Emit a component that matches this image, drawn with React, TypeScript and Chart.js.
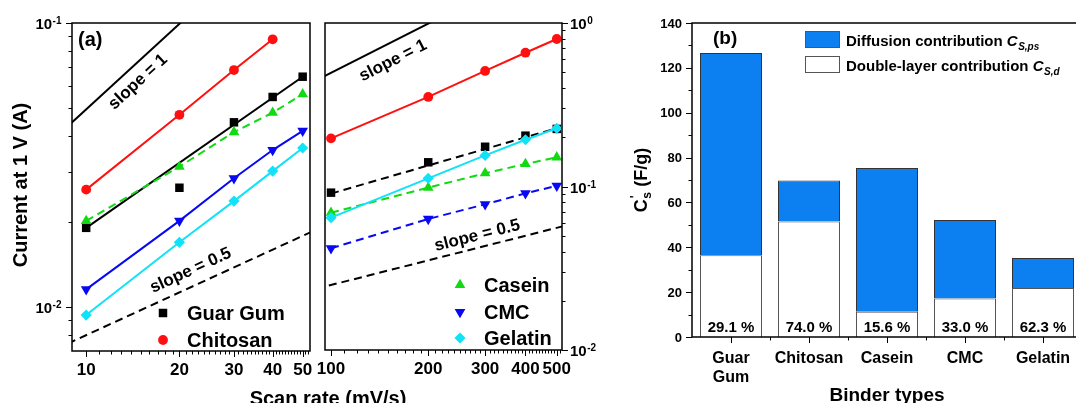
import React, { useEffect, useRef } from 'react';
import { Chart, registerables } from 'chart.js';

Chart.register(...registerables);

const FONT = '"Liberation Sans", Arial, Helvetica, sans-serif';
const W = 1076;
const H = 403;

// ---------- Panel (a), low scan rates (mV/s) ----------
const scanLow = [10, 20, 30, 40, 50];
const guarLow = [0.019, 0.0263, 0.0447, 0.0549, 0.0647];
const guarLowFitX = [10, 50];
const guarLowFitY = [0.019, 0.0647];
const chitosanLowX = [10, 20, 30, 40];
const chitosanLow = [0.0259, 0.0475, 0.0683, 0.0876];
const caseinLow = [0.0201, 0.0312, 0.0413, 0.0483, 0.0562];
const cmcLow = [0.01154, 0.0201, 0.0284, 0.0357, 0.0417];
const gelatinLow = [0.00937, 0.0169, 0.0236, 0.0301, 0.0363];
const slope1LowX = [8, 24];
const slope1LowY = [0.0397, 0.1192];
const slopeHalfLowX = [8, 60];
const slopeHalfLowY = [0.00712, 0.0195];
const lowXMajor = [10, 20, 30, 40, 50];
const lowYMajor = [0.01, 0.1];
const lowYMajorExp = ['-2', '-1'];

// ---------- Panel (a), high scan rates (mV/s) ----------
const scanHigh = [100, 200, 300, 400, 500];
const chitosanHigh = [0.197, 0.353, 0.509, 0.658, 0.798];
const guarHigh = [0.0917, 0.1406, 0.175, 0.2046, 0.225];
const guarHighFitX = [100, 500];
const guarHighFitY = [0.0905, 0.227];
const gelatinHigh = [0.0645, 0.1122, 0.155, 0.1932, 0.227];
const caseinHigh = [0.0691, 0.0984, 0.1205, 0.1373, 0.1509];
const cmcHigh = [0.0419, 0.0633, 0.0778, 0.0908, 0.101];
const slope1HighX = [90, 240];
const slope1HighY = [0.446, 1.19];
const slopeHalfHighX = [90, 600];
const slopeHalfHighY = [0.0237, 0.0612];
const highXMajor = [100, 200, 300, 400, 500];
const highYMajor = [0.01, 0.1, 1];
const highYMajorExp = ['-2', '-1', '0'];

// ---------- Panel (b) ----------
const binders = [['Guar', 'Gum'], ['Chitosan'], ['Casein'], ['CMC'], ['Gelatin']];
const doubleLayer = [36.4, 51.5, 11.3, 17.2, 21.8];
const diffusion = [90.2, 18.3, 64.0, 35.0, 13.4];
const pctLabels = ['29.1 %', '74.0 %', '15.6 %', '33.0 %', '62.3 %'];
const bYTicks = [0, 20, 40, 60, 80, 100, 120, 140];

const RED = '#FF1010';
const GREEN = '#12DA12';
const BLUE = '#0808F2';
const CYAN = '#10E2F8';
const BAR_BLUE = '#0C80F0';

const pts = (xs: number[], ys: number[]) => xs.map((x, i) => ({ x, y: ys[i] }));

function markerRadius(style: string) {
  if (style === 'rect') return 6;
  if (style === 'circle') return 4.9;
  if (style === 'triangle') return 6.2;
  return 5.6;
}

function series(label: string, xs: number[], ys: number[], color: string, style: string, rotation: number, line: boolean, dashed: boolean) {
  return {
    label,
    data: pts(xs, ys),
    borderColor: color,
    backgroundColor: color,
    pointStyle: style,
    pointRotation: rotation,
    pointRadius: markerRadius(style),
    pointBorderWidth: 0,
    borderWidth: 2,
    borderDash: dashed ? [8, 5] : [],
    showLine: line,
    tension: 0,
  };
}

function lineOnly(label: string, xs: number[], ys: number[], color: string, dashed: boolean) {
  return {
    label,
    data: pts(xs, ys),
    borderColor: color,
    backgroundColor: color,
    pointRadius: 0,
    borderWidth: 2,
    borderDash: dashed ? [8, 5] : [],
    showLine: true,
    tension: 0,
  };
}

function drawMarker(ctx: CanvasRenderingContext2D, style: string, rot: number, x: number, y: number, color: string) {
  const r = markerRadius(style);
  ctx.save();
  ctx.fillStyle = color;
  ctx.beginPath();
  if (style === 'rect') {
    const s = r * Math.SQRT1_2;
    ctx.rect(x - s, y - s, 2 * s, 2 * s);
  } else if (style === 'circle') {
    ctx.arc(x, y, r, 0, Math.PI * 2);
  } else if (style === 'triangle') {
    let a = (rot * Math.PI) / 180;
    for (let k = 0; k < 3; k++) {
      const px = x + Math.sin(a) * r;
      const py = y - Math.cos(a) * r;
      if (k === 0) ctx.moveTo(px, py);
      else ctx.lineTo(px, py);
      a += (2 * Math.PI) / 3;
    }
    ctx.closePath();
  } else {
    ctx.moveTo(x, y - r);
    ctx.lineTo(x + r, y);
    ctx.lineTo(x, y + r);
    ctx.lineTo(x - r, y);
    ctx.closePath();
  }
  ctx.fill();
  ctx.restore();
}

function font(size: number, italic = false) {
  return `${italic ? 'italic ' : ''}bold ${size}px ${FONT}`;
}

function powLabel(ctx: CanvasRenderingContext2D, exp: string, x: number, y: number, align: 'left' | 'right') {
  ctx.font = font(15);
  const wb = ctx.measureText('10').width;
  ctx.font = font(10);
  const ws = ctx.measureText(exp).width;
  const x0 = align === 'left' ? x : x - wb - ws;
  ctx.textAlign = 'left';
  ctx.textBaseline = 'alphabetic';
  ctx.font = font(15);
  ctx.fillText('10', x0, y);
  ctx.font = font(10);
  ctx.fillText(exp, x0 + wb + 0.5, y - 5);
}

function rotatedText(ctx: CanvasRenderingContext2D, text: string, x: number, y: number, angle: number, size: number) {
  ctx.save();
  ctx.translate(x, y);
  ctx.rotate(angle);
  ctx.font = font(size);
  ctx.textAlign = 'center';
  ctx.textBaseline = 'middle';
  ctx.fillText(text, 0, 0);
  ctx.restore();
}

function slopeAngle(chart: any, xs: number[], ys: number[]) {
  const { x, y } = chart.scales;
  const dx = x.getPixelForValue(xs[1]) - x.getPixelForValue(xs[0]);
  const dy = y.getPixelForValue(ys[1]) - y.getPixelForValue(ys[0]);
  return Math.atan2(dy, dx);
}

function logMinors(lo: number, hi: number, majorsFrom: number[]) {
  const out: number[] = [];
  for (let d = Math.floor(Math.log10(lo)) - 1; d <= Math.ceil(Math.log10(hi)); d++) {
    for (let m = 2; m <= 9; m++) {
      const v = m * Math.pow(10, d);
      if (v > lo && v < hi && !majorsFrom.includes(v)) out.push(v);
    }
  }
  return out;
}

function drawLogFrame(chart: any, opts: {
  xMajor: number[]; xMinor: number[]; yMajor: number[]; yExp: string[]; yMinor: number[]; ySide: 'left' | 'right';
}) {
  const { ctx, chartArea: a, scales } = chart;
  const { x, y } = scales;
  ctx.save();
  ctx.strokeStyle = '#000';
  ctx.fillStyle = '#000';
  ctx.lineWidth = 1.5;
  ctx.strokeRect(a.left, a.top, a.right - a.left, a.bottom - a.top);
  ctx.lineWidth = 1;
  ctx.beginPath();
  for (const v of opts.xMajor) {
    const px = Math.round(x.getPixelForValue(v)) + 0.5;
    ctx.moveTo(px, a.bottom);
    ctx.lineTo(px, a.bottom + 6);
  }
  for (const v of opts.xMinor) {
    const px = Math.round(x.getPixelForValue(v)) + 0.5;
    if (px <= a.left + 1 || px >= a.right - 1) continue;
    ctx.moveTo(px, a.bottom);
    ctx.lineTo(px, a.bottom + 3.5);
  }
  const ax = opts.ySide === 'left' ? a.left : a.right;
  const dir = opts.ySide === 'left' ? -1 : 1;
  for (const v of opts.yMajor) {
    const py = Math.round(y.getPixelForValue(v)) + 0.5;
    ctx.moveTo(ax, py);
    ctx.lineTo(ax + dir * 6, py);
  }
  for (const v of opts.yMinor) {
    const py = Math.round(y.getPixelForValue(v)) + 0.5;
    ctx.moveTo(ax, py);
    ctx.lineTo(ax + dir * 3.5, py);
  }
  ctx.stroke();
  ctx.font = font(17);
  ctx.textAlign = 'center';
  ctx.textBaseline = 'alphabetic';
  for (const v of opts.xMajor) {
    ctx.fillText(String(v), x.getPixelForValue(v), a.bottom + 24);
  }
  opts.yMajor.forEach((v, i) => {
    const py = y.getPixelForValue(v);
    if (opts.ySide === 'left') powLabel(ctx, opts.yExp[i], a.left - 11, py + 6, 'right');
    else powLabel(ctx, opts.yExp[i], a.right + 8, py + 6, 'left');
  });
  ctx.restore();
}

function legendRows(ctx: CanvasRenderingContext2D, rows: { label: string; style: string; rot: number; color: string }[], mx: number, tx: number, ys: number[]) {
  rows.forEach((r, i) => {
    drawMarker(ctx, r.style, r.rot, mx, ys[i], r.color);
    ctx.font = font(20);
    ctx.fillStyle = '#000';
    ctx.textAlign = 'left';
    ctx.textBaseline = 'middle';
    ctx.fillText(r.label, tx, ys[i] + 1);
  });
}

const lowPlugin = {
  id: 'lowPanel',
  afterDraw(chart: any) {
    const { ctx, chartArea: a, scales } = chart;
    drawLogFrame(chart, {
      xMajor: lowXMajor,
      xMinor: Array.from({ length: 43 }, (_, i) => 10 + i).filter((v) => !lowXMajor.includes(v)),
      yMajor: lowYMajor,
      yExp: lowYMajorExp,
      yMinor: logMinors(0.007, 0.1, lowYMajor),
      ySide: 'left',
    });
    ctx.save();
    ctx.fillStyle = '#000';
    ctx.font = font(20);
    ctx.textAlign = 'left';
    ctx.textBaseline = 'alphabetic';
    ctx.fillText('(a)', a.left + 6, a.top + 23);
    const { x, y } = scales;
    rotatedText(ctx, 'slope = 1', x.getPixelForValue(14.7), y.getPixelForValue(0.062), slopeAngle(chart, slope1LowX, slope1LowY), 17);
    rotatedText(ctx, 'slope = 0.5', x.getPixelForValue(21.75), y.getPixelForValue(0.01343), slopeAngle(chart, slopeHalfLowX, slopeHalfLowY), 17);
    legendRows(ctx, [
      { label: 'Guar Gum', style: 'rect', rot: 0, color: '#000' },
      { label: 'Chitosan', style: 'circle', rot: 0, color: RED },
    ], a.left + 91, a.left + 115, [a.top + 290, a.top + 317]);
    rotatedText(ctx, 'Current at 1 V (A)', 21, 185, -Math.PI / 2, 20);
    ctx.font = font(20);
    ctx.textAlign = 'center';
    ctx.textBaseline = 'alphabetic';
    ctx.fillText('Scan rate (mV/s)', 328, 405);
    ctx.restore();
  },
};

const highPlugin = {
  id: 'highPanel',
  afterDraw(chart: any) {
    const { ctx, chartArea: a, scales } = chart;
    drawLogFrame(chart, {
      xMajor: highXMajor,
      xMinor: Array.from({ length: 42 }, (_, i) => 100 + i * 10).filter((v) => !highXMajor.includes(v)),
      yMajor: highYMajor,
      yExp: highYMajorExp,
      yMinor: logMinors(0.01, 1, highYMajor),
      ySide: 'right',
    });
    ctx.save();
    ctx.fillStyle = '#000';
    const { x, y } = scales;
    rotatedText(ctx, 'slope = 1', x.getPixelForValue(155.6), y.getPixelForValue(0.588), slopeAngle(chart, slope1HighX, slope1HighY), 17);
    rotatedText(ctx, 'slope = 0.5', x.getPixelForValue(283.8), y.getPixelForValue(0.05), slopeAngle(chart, slopeHalfHighX, slopeHalfHighY), 17);
    legendRows(ctx, [
      { label: 'Casein', style: 'triangle', rot: 0, color: GREEN },
      { label: 'CMC', style: 'triangle', rot: 180, color: BLUE },
      { label: 'Gelatin', style: 'rectRot', rot: 0, color: CYAN },
    ], a.left + 135, a.left + 159, [a.top + 262, a.top + 289, a.top + 315]);
    ctx.restore();
  },
};

const barPlugin = {
  id: 'barPanel',
  afterDraw(chart: any) {
    const { ctx, chartArea: a, scales } = chart;
    const { x, y } = scales;
    ctx.save();
    ctx.strokeStyle = '#000';
    ctx.fillStyle = '#000';
    ctx.lineWidth = 1.5;
    ctx.strokeRect(a.left, a.top, a.right - a.left, a.bottom - a.top);
    ctx.lineWidth = 1;
    ctx.beginPath();
    bYTicks.forEach((v) => {
      const py = Math.round(y.getPixelForValue(v)) + 0.5;
      ctx.moveTo(a.left, py);
      ctx.lineTo(a.left - 6, py);
      if (v < 140) {
        const pm = Math.round(y.getPixelForValue(v + 10)) + 0.5;
        ctx.moveTo(a.left, pm);
        ctx.lineTo(a.left - 3.5, pm);
      }
    });
    const half = (x.getPixelForValue(1) - x.getPixelForValue(0)) / 2;
    binders.forEach((_, i) => {
      const cx = Math.round(x.getPixelForValue(i)) + 0.5;
      ctx.moveTo(cx, a.bottom);
      ctx.lineTo(cx, a.bottom + 6);
      const bx = Math.round(x.getPixelForValue(i) + half) + 0.5;
      ctx.moveTo(bx, a.bottom);
      ctx.lineTo(bx, a.bottom + 3.5);
    });
    ctx.stroke();
    ctx.font = font(13);
    ctx.textAlign = 'right';
    ctx.textBaseline = 'middle';
    bYTicks.forEach((v) => ctx.fillText(String(v), a.left - 10, y.getPixelForValue(v) + 1));
    ctx.textAlign = 'center';
    ctx.textBaseline = 'alphabetic';
    binders.forEach((lines, i) => {
      const cx = x.getPixelForValue(i);
      ctx.font = font(16);
      lines.forEach((t, k) => ctx.fillText(t, cx, a.bottom + 26 + k * 19));
      ctx.font = font(15);
      ctx.fillText(pctLabels[i], cx, a.bottom - 5.5);
    });
    ctx.font = font(19);
    ctx.fillText('Binder types', x.getPixelForValue(2), 401);
    ctx.textAlign = 'left';
    ctx.font = font(19);
    ctx.fillText('(b)', a.left + 21, a.top + 21);
    const lx = 805;
    const entries = [
      { fill: BAR_BLUE, text: 'Diffusion contribution ', sub: 'S,ps', top: 31 },
      { fill: '#FFFFFF', text: 'Double-layer contribution ', sub: 'S,d', top: 56 },
    ];
    entries.forEach((e) => {
      ctx.fillStyle = e.fill;
      ctx.fillRect(lx, e.top, 35, 17);
      ctx.strokeStyle = '#555';
      ctx.lineWidth = 1;
      ctx.strokeRect(lx + 0.5, e.top + 0.5, 34, 16);
      ctx.fillStyle = '#000';
      ctx.font = font(15);
      const base = e.top + 14.5;
      ctx.fillText(e.text, 846, base);
      const w1 = ctx.measureText(e.text).width;
      ctx.font = font(15, true);
      ctx.fillText('C', 846 + w1, base);
      const w2 = ctx.measureText('C').width;
      ctx.font = font(10, true);
      ctx.fillText(e.sub, 846 + w1 + w2 + 0.5, base + 4);
    });
    ctx.save();
    ctx.translate(641, 180);
    ctx.rotate(-Math.PI / 2);
    ctx.font = font(18);
    const wc = ctx.measureText('C').width;
    const rest = ' (F/g)';
    const wr = ctx.measureText(rest).width;
    ctx.font = font(12);
    const wsub = ctx.measureText('s').width;
    const total = wc + wsub + 1 + wr;
    let px = -total / 2;
    ctx.textAlign = 'left';
    ctx.textBaseline = 'alphabetic';
    ctx.font = font(18);
    ctx.fillText('C', px, 6);
    px += wc;
    ctx.font = font(12);
    ctx.fillText('s', px + 0.5, 10);
    ctx.fillText("'", px + 1, -2);
    px += wsub + 1;
    ctx.font = font(18);
    ctx.fillText(rest, px, 6);
    ctx.restore();
    ctx.restore();
  },
};

function lineCommon(xMin: number, xMax: number, yMin: number, yMax: number, padding: any) {
  return {
    responsive: false,
    animation: false as const,
    devicePixelRatio: 1,
    events: [] as any[],
    layout: { padding },
    plugins: { legend: { display: false }, tooltip: { enabled: false }, title: { display: false } },
    scales: {
      x: { type: 'logarithmic' as const, min: xMin, max: xMax, display: false },
      y: { type: 'logarithmic' as const, min: yMin, max: yMax, display: false },
    },
  };
}

export default function App() {
  const c1 = useRef<HTMLCanvasElement>(null);
  const c2 = useRef<HTMLCanvasElement>(null);
  const c3 = useRef<HTMLCanvasElement>(null);

  useEffect(() => {
    const low = new Chart(c1.current as HTMLCanvasElement, {
      type: 'scatter',
      data: {
        datasets: [
          series('Gelatin', scanLow, gelatinLow, CYAN, 'rectRot', 0, true, false),
          series('CMC', scanLow, cmcLow, BLUE, 'triangle', 180, true, false),
          series('Casein', scanLow, caseinLow, GREEN, 'triangle', 0, true, true),
          series('Chitosan', chitosanLowX, chitosanLow, RED, 'circle', 0, true, false),
          series('Guar Gum', scanLow, guarLow, '#000', 'rect', 0, false, false),
          lineOnly('Guar Gum fit', guarLowFitX, guarLowFitY, '#000', false),
          lineOnly('slope = 1', slope1LowX, slope1LowY, '#000', false),
          lineOnly('slope = 0.5', slopeHalfLowX, slopeHalfLowY, '#000', true),
        ] as any,
      },
      options: lineCommon(9.0, 52.8, 0.0070, 0.1, { left: 72, top: 23, right: W - 310, bottom: H - 351 }) as any,
      plugins: [lowPlugin],
    });
    const high = new Chart(c2.current as HTMLCanvasElement, {
      type: 'scatter',
      data: {
        datasets: [
          series('Gelatin', scanHigh, gelatinHigh, CYAN, 'rectRot', 0, true, false),
          series('CMC', scanHigh, cmcHigh, BLUE, 'triangle', 180, true, true),
          series('Casein', scanHigh, caseinHigh, GREEN, 'triangle', 0, true, true),
          series('Chitosan', scanHigh, chitosanHigh, RED, 'circle', 0, true, false),
          series('Guar Gum', scanHigh, guarHigh, '#000', 'rect', 0, false, false),
          lineOnly('Guar Gum fit', guarHighFitX, guarHighFitY, '#000', true),
          lineOnly('slope = 1', slope1HighX, slope1HighY, '#000', false),
          lineOnly('slope = 0.5', slopeHalfHighX, slopeHalfHighY, '#000', true),
        ] as any,
      },
      options: lineCommon(95.8, 519, 0.01, 1, { left: 325, top: 23, right: W - 562, bottom: H - 350 }) as any,
      plugins: [highPlugin],
    });
    const bar = new Chart(c3.current as HTMLCanvasElement, {
      type: 'bar',
      data: {
        labels: binders.map((b) => b.join(' ')),
        datasets: [
          {
            label: 'Double-layer contribution',
            data: doubleLayer,
            backgroundColor: '#FFFFFF',
            borderColor: '#555555',
            borderWidth: 1,
            barPercentage: 0.795,
            categoryPercentage: 1,
          },
          {
            label: 'Diffusion contribution',
            data: diffusion,
            backgroundColor: BAR_BLUE,
            borderColor: '#333333',
            borderWidth: 1,
            barPercentage: 0.795,
            categoryPercentage: 1,
          },
        ],
      },
      options: {
        responsive: false,
        animation: false,
        devicePixelRatio: 1,
        events: [],
        layout: { padding: { left: 692, top: 23, right: 1100 - 1082, bottom: H - 337 } },
        plugins: { legend: { display: false }, tooltip: { enabled: false }, title: { display: false } },
        scales: {
          x: { type: 'category', stacked: true, display: false, offset: true },
          y: { type: 'linear', stacked: true, min: 0, max: 140, display: false },
        },
      } as any,
      plugins: [barPlugin],
    });
    return () => {
      low.destroy();
      high.destroy();
      bar.destroy();
    };
  }, []);

  const cs: React.CSSProperties = { position: 'absolute', left: 0, top: 0 };
  return (
    <div style={{ position: 'fixed', left: 0, top: 0, width: W, height: H, overflow: 'hidden', background: '#fff' }}>
      <canvas ref={c1} width={W} height={H} style={cs} />
      <canvas ref={c2} width={W} height={H} style={cs} />
      <canvas ref={c3} width={1100} height={H} style={cs} />
    </div>
  );
}
